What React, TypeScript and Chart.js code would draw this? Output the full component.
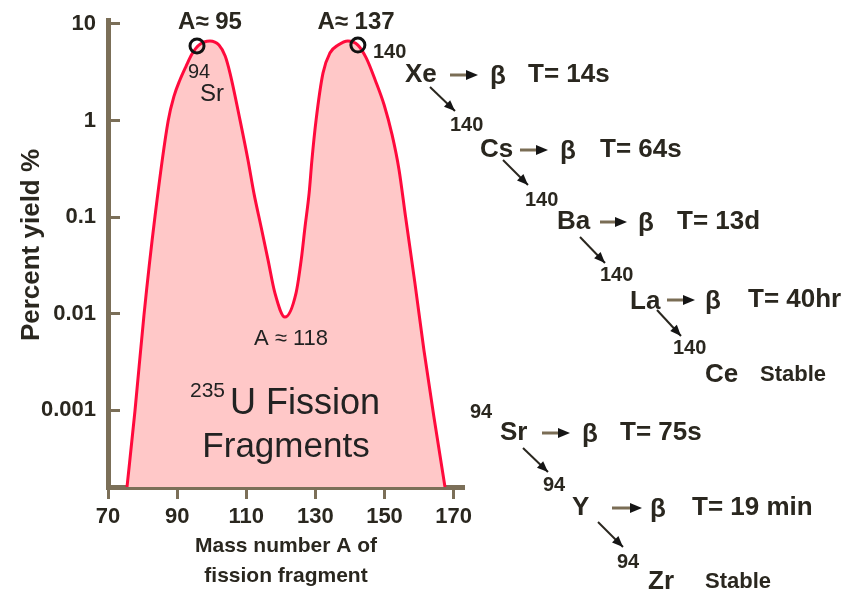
import { useEffect, useRef } from "react";
import { Chart, registerables } from "chart.js";

Chart.register(...registerables);

// ---- data ----
const massNumbers = [75.5, 77.8, 80.4, 83.6, 87.4, 89.1, 90.8, 92.6, 94.3, 96.3, 99.5, 102.1, 103.9, 105.3, 108.2, 110.5, 112.2, 114.3, 116.3, 118.3, 121.2, 124.4, 125.9, 127.0, 128.2, 129.0, 130.2, 132.2, 134.2, 136.6, 139.4, 142.3, 144.7, 147.3, 149.9, 152.2, 154.2, 156.1, 158.8, 161.4, 164.3, 167.5];
const yieldPercent = [0.00016, 0.00098, 0.0096, 0.102, 0.99, 1.79, 2.63, 3.67, 4.89, 6.05, 6.67, 6.05, 4.66, 3.1, 1.01, 0.39, 0.178, 0.079, 0.036, 0.0163, 0.0092, 0.0163, 0.036, 0.079, 0.178, 0.39, 1.01, 3.1, 5.0, 6.05, 6.67, 6.05, 4.45, 2.63, 1.45, 0.71, 0.31, 0.1, 0.0207, 0.0042, 0.00085, 0.00016];

const peakMass = [95.75, 142.3];
const peakYield = [5.92, 6.05];

const xTicks = [70, 90, 110, 130, 150, 170];
const yTicks = [10, 1, 0.1, 0.01, 0.001];
const yTickLabels = ["10", "1", "0.1", "0.01", "0.001"];

const xTitle = ["Mass number A of", "fission fragment"];
const yTitle = "Percent yield %";

// ---- styling ----
const FONT = "'Liberation Sans', Arial, Helvetica, sans-serif";
const AXIS_COLOR = "#7b6f58";
const TEXT_COLOR = "#2a271f";

type Label = { text: string; x: number; y: number; size: number; bold?: boolean; align?: CanvasTextAlign; color?: string };

const plotLabels: Label[] = [
  { text: "A\u2248 95", x: 210, y: 22, size: 24, bold: true, align: "center", color: TEXT_COLOR },
  { text: "A\u2248 137", x: 356, y: 22, size: 24, bold: true, align: "center", color: TEXT_COLOR },
  { text: "94", x: 188, y: 72, size: 20, align: "left", color: "#222" },
  { text: "Sr", x: 200, y: 94, size: 24, align: "left", color: "#222" },
  { text: "A \u2248 118", x: 291, y: 339, size: 22, align: "center", color: "#222" },
  { text: "235", x: 190, y: 391, size: 21, align: "left", color: "#222" },
  { text: "U Fission", x: 230, y: 404, size: 36, align: "left", color: "#222" },
  { text: "Fragments", x: 286, y: 447, size: 35, align: "center", color: "#222" },
];

const chainLabels: Label[] = [
  { text: "140", x: 373, y: 52, size: 20, bold: true },
  { text: "Xe", x: 405, y: 75, size: 26, bold: true },
  { text: "\u03b2", x: 490, y: 77, size: 26, bold: true },
  { text: "T= 14s", x: 528, y: 75, size: 26, bold: true },
  { text: "140", x: 450, y: 125, size: 20, bold: true },
  { text: "Cs", x: 480, y: 150, size: 26, bold: true },
  { text: "\u03b2", x: 560, y: 152, size: 26, bold: true },
  { text: "T= 64s", x: 600, y: 150, size: 26, bold: true },
  { text: "140", x: 525, y: 200, size: 20, bold: true },
  { text: "Ba", x: 557, y: 222, size: 26, bold: true },
  { text: "\u03b2", x: 638, y: 224, size: 26, bold: true },
  { text: "T= 13d", x: 677, y: 222, size: 26, bold: true },
  { text: "140", x: 600, y: 275, size: 20, bold: true },
  { text: "La", x: 630, y: 302, size: 26, bold: true },
  { text: "\u03b2", x: 705, y: 302, size: 26, bold: true },
  { text: "T= 40hr", x: 748, y: 300, size: 26, bold: true },
  { text: "140", x: 673, y: 348, size: 20, bold: true },
  { text: "Ce", x: 705, y: 375, size: 26, bold: true },
  { text: "Stable", x: 760, y: 375, size: 22, bold: true },
  { text: "94", x: 470, y: 412, size: 20, bold: true },
  { text: "Sr", x: 500, y: 433, size: 26, bold: true },
  { text: "\u03b2", x: 582, y: 435, size: 26, bold: true },
  { text: "T= 75s", x: 620, y: 433, size: 26, bold: true },
  { text: "94", x: 543, y: 485, size: 20, bold: true },
  { text: "Y", x: 572, y: 508, size: 26, bold: true },
  { text: "\u03b2", x: 650, y: 510, size: 26, bold: true },
  { text: "T= 19 min", x: 692, y: 508, size: 26, bold: true },
  { text: "94", x: 617, y: 562, size: 20, bold: true },
  { text: "Zr", x: 648, y: 582, size: 26, bold: true },
  { text: "Stable", x: 705, y: 582, size: 22, bold: true },
];

// horizontal decay arrows: [x0, x1, y]
const betaArrows: [number, number, number][] = [
  [450, 478, 75], [520, 548, 150], [600, 627, 222], [667, 695, 300], [542, 570, 433], [612, 642, 508],
];
// diagonal chain arrows: [x0, y0, x1, y1]
const chainArrows: [number, number, number, number][] = [
  [430, 87, 455, 111], [503, 160, 528, 185], [580, 237, 605, 263], [657, 310, 681, 336], [523, 448, 548, 472], [598, 522, 623, 547],
];

function drawHead(ctx: CanvasRenderingContext2D, x0: number, y0: number, x1: number, y1: number, len: number, half: number) {
  const a = Math.atan2(y1 - y0, x1 - x0);
  ctx.beginPath();
  ctx.moveTo(x1, y1);
  ctx.lineTo(x1 - len * Math.cos(a) + half * Math.sin(a), y1 - len * Math.sin(a) - half * Math.cos(a));
  ctx.lineTo(x1 - len * Math.cos(a) - half * Math.sin(a), y1 - len * Math.sin(a) + half * Math.cos(a));
  ctx.closePath();
  ctx.fill();
}

const annotationPlugin = {
  id: "annotations",
  afterDraw(chart: Chart) {
    const ctx = chart.ctx;
    ctx.save();
    ctx.textBaseline = "middle";
    const draw = (l: Label) => {
      ctx.font = `${l.bold ? "bold " : ""}${l.size}px ${FONT}`;
      ctx.textAlign = l.align ?? "left";
      ctx.fillStyle = l.color ?? TEXT_COLOR;
      ctx.fillText(l.text, l.x, l.y);
    };
    plotLabels.forEach(draw);
    chainLabels.forEach(draw);

    // y axis title
    ctx.save();
    ctx.translate(32, 245);
    ctx.rotate(-Math.PI / 2);
    ctx.font = `bold 26px ${FONT}`;
    ctx.textAlign = "center";
    ctx.fillStyle = TEXT_COLOR;
    ctx.fillText(yTitle, 0, 0);
    ctx.restore();

    for (const [x0, x1, y] of betaArrows) {
      ctx.strokeStyle = "#7a6d55";
      ctx.lineWidth = 3;
      ctx.beginPath();
      ctx.moveTo(x0, y);
      ctx.lineTo(x1 - 8, y);
      ctx.stroke();
      ctx.fillStyle = "#151515";
      drawHead(ctx, x0, y, x1, y, 12, 5);
    }
    for (const [x0, y0, x1, y1] of chainArrows) {
      ctx.strokeStyle = "#2a271f";
      ctx.lineWidth = 2;
      ctx.beginPath();
      ctx.moveTo(x0, y0);
      ctx.lineTo(x1, y1);
      ctx.stroke();
      ctx.fillStyle = "#151515";
      drawHead(ctx, x0, y0, x1, y1, 11, 4.5);
    }
    ctx.restore();
  },
};

export default function App() {
  const ref = useRef<HTMLCanvasElement>(null);
  useEffect(() => {
    const canvas = ref.current;
    if (!canvas) return;
    const chart = new Chart(canvas, {
      type: "line",
      data: {
        datasets: [
          {
            data: massNumbers.map((a, i) => ({ x: a, y: yieldPercent[i] })),
            borderColor: "#ff0a3c",
            borderWidth: 3,
            backgroundColor: "#ffc8c8",
            fill: "start",
            pointRadius: 0,
            cubicInterpolationMode: "monotone",
            order: 2,
          },
          {
            data: peakMass.map((a, i) => ({ x: a, y: peakYield[i] })),
            showLine: false,
            pointRadius: 7,
            pointBorderWidth: 3,
            pointBorderColor: "#111",
            pointBackgroundColor: "rgba(0,0,0,0)",
            borderColor: "#111",
            backgroundColor: "rgba(0,0,0,0)",
            fill: false,
            clip: false,
            order: 1,
          },
        ],
      },
      options: {
        responsive: false,
        animation: false,
        devicePixelRatio: 1,
        layout: { padding: { left: 0, top: 20, right: 389, bottom: 0 } },
        plugins: { legend: { display: false }, tooltip: { enabled: false } },
        scales: {
          x: {
            type: "linear",
            min: 70,
            max: 173,
            afterBuildTicks: (s: any) => {
              s.ticks = xTicks.map((v) => ({ value: v }));
            },
            afterFit: (s: any) => {
              s.height = 110;
            },
            border: { display: true, color: AXIS_COLOR, width: 5 },
            grid: { drawOnChartArea: false, drawTicks: true, tickLength: 12, tickWidth: 3, tickColor: AXIS_COLOR, color: AXIS_COLOR },
            ticks: {
              color: TEXT_COLOR,
              font: { family: FONT, size: 22, weight: "bold" },
              padding: 5,
              maxRotation: 0,
              autoSkip: false,
              callback: (v: any) => String(v),
            },
            title: {
              display: true,
              text: xTitle,
              color: TEXT_COLOR,
              font: { family: FONT, size: 21, weight: "bold", lineHeight: 1.43 },
              padding: { top: 0, bottom: 6 },
            },
          },
          y: {
            type: "logarithmic",
            min: 0.00016,
            max: 11,
            afterBuildTicks: (s: any) => {
              s.ticks = yTicks.map((v) => ({ value: v }));
            },
            afterFit: (s: any) => {
              s.width = 108;
              s.paddingTop = 0;
              s.paddingBottom = 0;
            },
            border: { display: true, color: AXIS_COLOR, width: 5 },
            grid: { drawOnChartArea: false, drawTicks: true, tickLength: -12, tickWidth: 3, tickColor: AXIS_COLOR, color: AXIS_COLOR },
            ticks: {
              color: TEXT_COLOR,
              font: { family: FONT, size: 22, weight: "bold" },
              padding: 24,
              autoSkip: false,
              callback: (_v: any, i: number) => yTickLabels[i],
            },
            title: { display: false },
          },
        },
      },
      plugins: [annotationPlugin],
    } as any);
    return () => chart.destroy();
  }, []);

  return (
    <div style={{ position: "absolute", left: 0, top: 0, width: 853, height: 597, background: "#fff" }}>
      <canvas ref={ref} width={853} height={597} style={{ display: "block" }} />
    </div>
  );
}
